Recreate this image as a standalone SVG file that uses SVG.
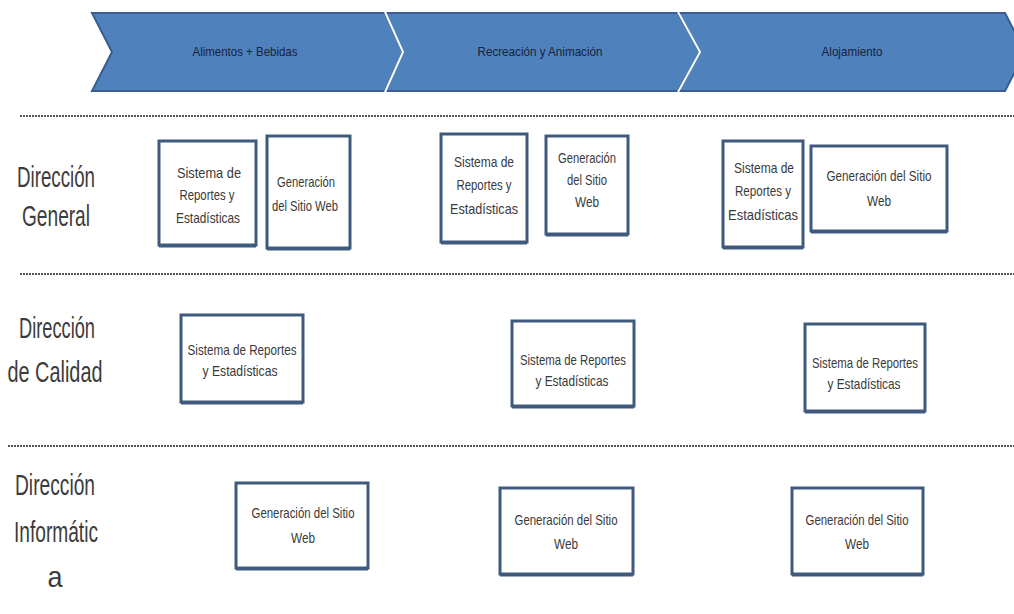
<svg xmlns="http://www.w3.org/2000/svg" width="1014" height="614" viewBox="0 0 1014 614">
<style>
.chev{fill:#4f81bd;stroke:#3a5f8e;stroke-width:2}
.sep{fill:none;stroke:#ffffff;stroke-width:2}
.ct{font-family:"Liberation Sans",Arial,sans-serif;font-size:13px;fill:#17233a;text-anchor:middle}
.dot{stroke:#555;stroke-width:2;stroke-dasharray:2 1}
.box{fill:#ffffff;stroke:#3f5a7c;stroke-width:3}
.sh{fill:none;stroke:#3f5a7c;stroke-width:3}
.bt{font-family:"Liberation Sans",Arial,sans-serif;font-size:15px;fill:#3a3a3a;text-anchor:middle}
.lb{font-family:"Liberation Sans",Arial,sans-serif;font-size:29px;fill:#3c3c3c;text-anchor:middle}
</style>
<rect width="1014" height="614" fill="#ffffff"/>
<g id="phases">
<g id="phase1"><polygon class="chev" points="92,13 385,13 403,52 385,91 92,91 112,52"/><text class="ct" x="245" y="56" textLength="105" lengthAdjust="spacingAndGlyphs">Alimentos + Bebidas</text></g>
<g id="phase2"><polygon class="chev" points="385,13 678,13 700,52 678,91 385,91 403,52"/><text class="ct" x="540" y="56" textLength="125" lengthAdjust="spacingAndGlyphs">Recreación y Animación</text></g>
<g id="phase3"><polygon class="chev" points="678,13 1005,13 1025,52 1005,91 678,91 700,52"/><text class="ct" x="852" y="56" textLength="61" lengthAdjust="spacingAndGlyphs">Alojamiento</text></g>
<polyline class="sep" points="385,12 403,52 385,92"/>
<polyline class="sep" points="678,12 700,52 678,92"/>
</g>
<g id="separators">
<line class="dot" x1="20" y1="116" x2="1014" y2="116"/>
<line class="dot" x1="20" y1="274" x2="1014" y2="274"/>
<line class="dot" x1="8" y1="446" x2="1014" y2="446"/>
</g>
<g id="labels">
<g id="lbl-general"><text class="lb" x="56" y="187" textLength="78" lengthAdjust="spacingAndGlyphs">Dirección</text><text class="lb" x="56" y="226" textLength="68" lengthAdjust="spacingAndGlyphs">General</text></g>
<g id="lbl-calidad"><text class="lb" x="57" y="338" textLength="76" lengthAdjust="spacingAndGlyphs">Dirección</text><text class="lb" x="55" y="382" textLength="95" lengthAdjust="spacingAndGlyphs">de Calidad</text></g>
<g id="lbl-informatica"><text class="lb" x="55" y="495" textLength="80" lengthAdjust="spacingAndGlyphs">Dirección</text><text class="lb" x="56" y="542" textLength="84" lengthAdjust="spacingAndGlyphs">Informátic</text><text class="lb" x="55" y="587" textLength="15" lengthAdjust="spacingAndGlyphs">a</text></g>
</g>
<g id="nodes">
<g id="g-a1"><rect class="box" x="159" y="141" width="97" height="104"/><line class="sh" x1="159" y1="246" x2="256" y2="246"/><text class="bt" x="209" y="178" textLength="64" lengthAdjust="spacingAndGlyphs">Sistema de</text><text class="bt" x="207" y="200" textLength="55" lengthAdjust="spacingAndGlyphs">Reportes y</text><text class="bt" x="208" y="223" textLength="64" lengthAdjust="spacingAndGlyphs">Estadísticas</text></g>
<g id="g-a2"><rect class="box" x="267" y="136" width="83" height="112"/><line class="sh" x1="267" y1="249" x2="350" y2="249"/><text class="bt" x="306" y="187" textLength="58" lengthAdjust="spacingAndGlyphs">Generación</text><text class="bt" x="305" y="211" textLength="66" lengthAdjust="spacingAndGlyphs">del Sitio Web</text></g>
<g id="g-b1"><rect class="box" x="441" y="134" width="86" height="108"/><line class="sh" x1="441" y1="243" x2="527" y2="243"/><text class="bt" x="484" y="167" textLength="60" lengthAdjust="spacingAndGlyphs">Sistema de</text><text class="bt" x="484" y="190" textLength="55" lengthAdjust="spacingAndGlyphs">Reportes y</text><text class="bt" x="484" y="214" textLength="68" lengthAdjust="spacingAndGlyphs">Estadísticas</text></g>
<g id="g-b2"><rect class="box" x="546" y="136" width="82" height="98"/><line class="sh" x1="546" y1="235" x2="628" y2="235"/><text class="bt" x="587" y="163" textLength="58" lengthAdjust="spacingAndGlyphs">Generación</text><text class="bt" x="587" y="185" textLength="40" lengthAdjust="spacingAndGlyphs">del Sitio</text><text class="bt" x="587" y="207" textLength="24" lengthAdjust="spacingAndGlyphs">Web</text></g>
<g id="g-c1"><rect class="box" x="723" y="141" width="80" height="106"/><line class="sh" x1="723" y1="248" x2="803" y2="248"/><text class="bt" x="764" y="173" textLength="60" lengthAdjust="spacingAndGlyphs">Sistema de</text><text class="bt" x="763" y="196" textLength="56" lengthAdjust="spacingAndGlyphs">Reportes y</text><text class="bt" x="763" y="220" textLength="70" lengthAdjust="spacingAndGlyphs">Estadísticas</text></g>
<g id="g-c2"><rect class="box" x="811" y="146" width="136" height="85"/><line class="sh" x1="811" y1="232" x2="947" y2="232"/><text class="bt" x="879" y="181" textLength="105" lengthAdjust="spacingAndGlyphs">Generación del Sitio</text><text class="bt" x="879" y="206" textLength="24" lengthAdjust="spacingAndGlyphs">Web</text></g>
<g id="q-a"><rect class="box" x="181" y="315" width="122" height="87"/><line class="sh" x1="181" y1="403" x2="303" y2="403"/><text class="bt" x="242" y="355" textLength="109" lengthAdjust="spacingAndGlyphs">Sistema de Reportes</text><text class="bt" x="240" y="376" textLength="75" lengthAdjust="spacingAndGlyphs">y Estadísticas</text></g>
<g id="q-b"><rect class="box" x="512" y="321" width="122" height="85"/><line class="sh" x1="512" y1="407" x2="634" y2="407"/><text class="bt" x="573" y="365" textLength="106" lengthAdjust="spacingAndGlyphs">Sistema de Reportes</text><text class="bt" x="572" y="386" textLength="73" lengthAdjust="spacingAndGlyphs">y Estadísticas</text></g>
<g id="q-c"><rect class="box" x="805" y="324" width="120" height="87"/><line class="sh" x1="805" y1="412" x2="925" y2="412"/><text class="bt" x="865" y="368" textLength="106" lengthAdjust="spacingAndGlyphs">Sistema de Reportes</text><text class="bt" x="864" y="389" textLength="73" lengthAdjust="spacingAndGlyphs">y Estadísticas</text></g>
<g id="i-a"><rect class="box" x="236" y="483" width="132" height="85"/><line class="sh" x1="236" y1="569" x2="368" y2="569"/><text class="bt" x="303" y="518" textLength="103" lengthAdjust="spacingAndGlyphs">Generación del Sitio</text><text class="bt" x="303" y="543" textLength="24" lengthAdjust="spacingAndGlyphs">Web</text></g>
<g id="i-b"><rect class="box" x="500" y="488" width="133" height="86"/><line class="sh" x1="500" y1="575" x2="633" y2="575"/><text class="bt" x="566" y="525" textLength="103" lengthAdjust="spacingAndGlyphs">Generación del Sitio</text><text class="bt" x="566" y="549" textLength="24" lengthAdjust="spacingAndGlyphs">Web</text></g>
<g id="i-c"><rect class="box" x="792" y="488" width="131" height="86"/><line class="sh" x1="792" y1="575" x2="923" y2="575"/><text class="bt" x="857" y="525" textLength="103" lengthAdjust="spacingAndGlyphs">Generación del Sitio</text><text class="bt" x="857" y="549" textLength="24" lengthAdjust="spacingAndGlyphs">Web</text></g>
</g>
<g id="connectors"></g>
</svg>
